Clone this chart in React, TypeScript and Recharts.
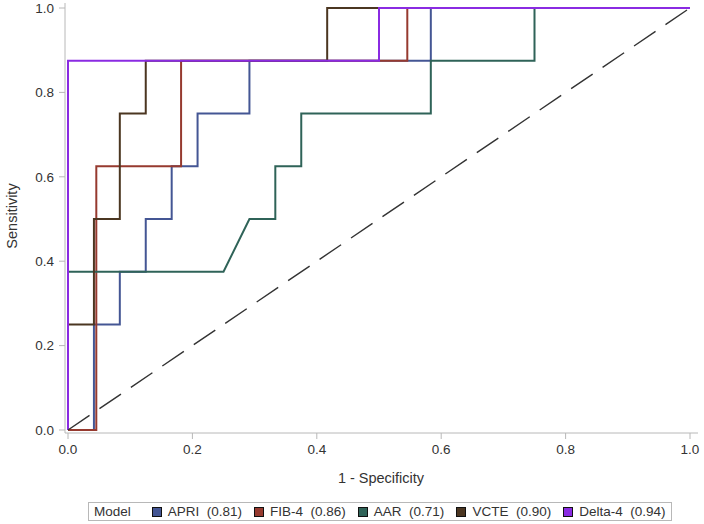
import React from "react";
import { LineChart, Line, XAxis, YAxis, Legend, Label } from "recharts";

// ROC curve vertices (1 - specificity, sensitivity)
const apriX = [0, 0.0417, 0.0417, 0.0833, 0.0833, 0.125, 0.125, 0.1667, 0.1667, 0.2083, 0.2083, 0.2917, 0.2917, 0.5833, 0.5833, 1];
const apriY = [0, 0, 0.25, 0.25, 0.375, 0.375, 0.5, 0.5, 0.625, 0.625, 0.75, 0.75, 0.875, 0.875, 1, 1];

const fib4X = [0, 0.0455, 0.0455, 0.1818, 0.1818, 0.5455, 0.5455, 1];
const fib4Y = [0, 0, 0.625, 0.625, 0.875, 0.875, 1, 1];

const aarX = [0, 0, 0.25, 0.2917, 0.3333, 0.3333, 0.375, 0.375, 0.5833, 0.5833, 0.75, 0.75, 1];
const aarY = [0, 0.375, 0.375, 0.5, 0.5, 0.625, 0.625, 0.75, 0.75, 0.875, 0.875, 1, 1];

const vcteX = [0, 0, 0.0417, 0.0417, 0.0833, 0.0833, 0.125, 0.125, 0.4167, 0.4167, 1];
const vcteY = [0, 0.25, 0.25, 0.5, 0.5, 0.75, 0.75, 0.875, 0.875, 1, 1];

const delta4X = [0, 0, 0.5, 0.5, 1];
const delta4Y = [0, 0.875, 0.875, 1, 1];

const refX = [0, 1];
const refY = [0, 1];

const axisTicks = [0, 0.2, 0.4, 0.6, 0.8, 1.0];

const modelNames = ["APRI", "FIB-4", "AAR", "VCTE", "Delta-4"];
const modelAuc = ["0.81", "0.86", "0.71", "0.90", "0.94"];
const modelColors = ["#445694", "#963A2F", "#2F6358", "#4B3621", "#8A2BE2"];

const zip = (xs: number[], ys: number[]) => xs.map((x, i) => ({ x, y: ys[i] }));

const series = [
  zip(apriX, apriY),
  zip(fib4X, fib4Y),
  zip(aarX, aarY),
  zip(vcteX, vcteY),
  zip(delta4X, delta4Y),
];

const FONT = '"Liberation Sans", Arial, Helvetica, sans-serif';
const FRAME = "#B8B8B8";
const TEXT = "#333333";

const LegendBox = () => (
  <div
    style={{
      boxSizing: "border-box",
      width: 584,
      height: 19,
      border: `1px solid ${FRAME}`,
      display: "flex",
      alignItems: "center",
      fontFamily: FONT,
      fontSize: 13.5,
      color: TEXT,
      whiteSpace: "pre",
      paddingLeft: 5,
    }}
  >
    <span style={{ marginRight: 21 }}>Model</span>
    {modelNames.map((n, i) => (
      <span key={n} style={{ display: "flex", alignItems: "center", marginRight: 12 }}>
        <span
          style={{
            display: "inline-block",
            width: 8,
            height: 8,
            border: "1px solid #111",
            background: modelColors[i],
            marginRight: 6,
          }}
        />
        <span>{`${n}  (${modelAuc[i]})`}</span>
      </span>
    ))}
  </div>
);

export default function App() {
  return (
    <div style={{ position: "absolute", left: 0, top: 0, width: 704, height: 524, background: "#fff" }}>
      <LineChart width={704} height={524} margin={{ top: 3, right: 6, left: 0, bottom: 61 }}>
        <XAxis
          xAxisId={0}
          type="number"
          dataKey="x"
          domain={[0, 1]}
          ticks={axisTicks}
          tickFormatter={(v: number) => v.toFixed(1)}
          padding={{ left: 3, right: 8 }}
          height={30}
          stroke={FRAME}
          tickSize={6}
          tickMargin={5}
          tick={{ fill: TEXT, fontSize: 13.5, fontFamily: FONT }}
          allowDuplicatedCategory={false}
        >
          <Label
            content={() => (
              <text x={381} y={478} textAnchor="middle" dominantBaseline="central" fill={TEXT} fontSize={14.5} fontFamily={FONT}>
                1 - Specificity
              </text>
            )}
          />
        </XAxis>
        <XAxis
          xAxisId="top"
          orientation="top"
          type="number"
          dataKey="x"
          domain={[0, 1]}
          height={0}
          tick={false}
          tickLine={false}
          stroke={FRAME}
          padding={{ left: 3, right: 8 }}
        />
        <YAxis
          yAxisId={0}
          type="number"
          dataKey="y"
          domain={[0, 1]}
          ticks={axisTicks}
          tickFormatter={(v: number) => v.toFixed(1)}
          padding={{ top: 5, bottom: 3 }}
          width={65}
          stroke={FRAME}
          tickSize={6}
          tickMargin={5}
          tick={{ fill: TEXT, fontSize: 13.5, fontFamily: FONT }}
        >
          <Label
            content={() => (
              <text
                x={12}
                y={216}
                transform="rotate(-90 12 216)"
                textAnchor="middle"
                dominantBaseline="central"
                fill={TEXT}
                fontSize={14.5}
                fontFamily={FONT}
              >
                Sensitivity
              </text>
            )}
          />
        </YAxis>
        <YAxis
          yAxisId="right"
          orientation="right"
          type="number"
          domain={[0, 1]}
          width={0}
          tick={false}
          tickLine={false}
          stroke={FRAME}
        />
        {series.map((d, i) => (
          <Line
            key={modelNames[i]}
            data={d}
            dataKey="y"
            name={modelNames[i]}
            type="linear"
            stroke={modelColors[i]}
            strokeWidth={2}
            dot={false}
            activeDot={false}
            isAnimationActive={false}
          />
        ))}
        <Line
          data={zip(refX, refY)}
          dataKey="y"
          name="ref"
          type="linear"
          stroke="#333"
          strokeWidth={1.4}
          strokeDasharray="26 12"
          dot={false}
          activeDot={false}
          legendType="none"
          isAnimationActive={false}
        />
        <Legend
          layout="horizontal"
          verticalAlign="middle"
          align="center"
          wrapperStyle={{ position: "absolute", left: 88, top: 502, width: 584, height: 19 }}
          content={() => <LegendBox />}
        />
      </LineChart>
    </div>
  );
}
